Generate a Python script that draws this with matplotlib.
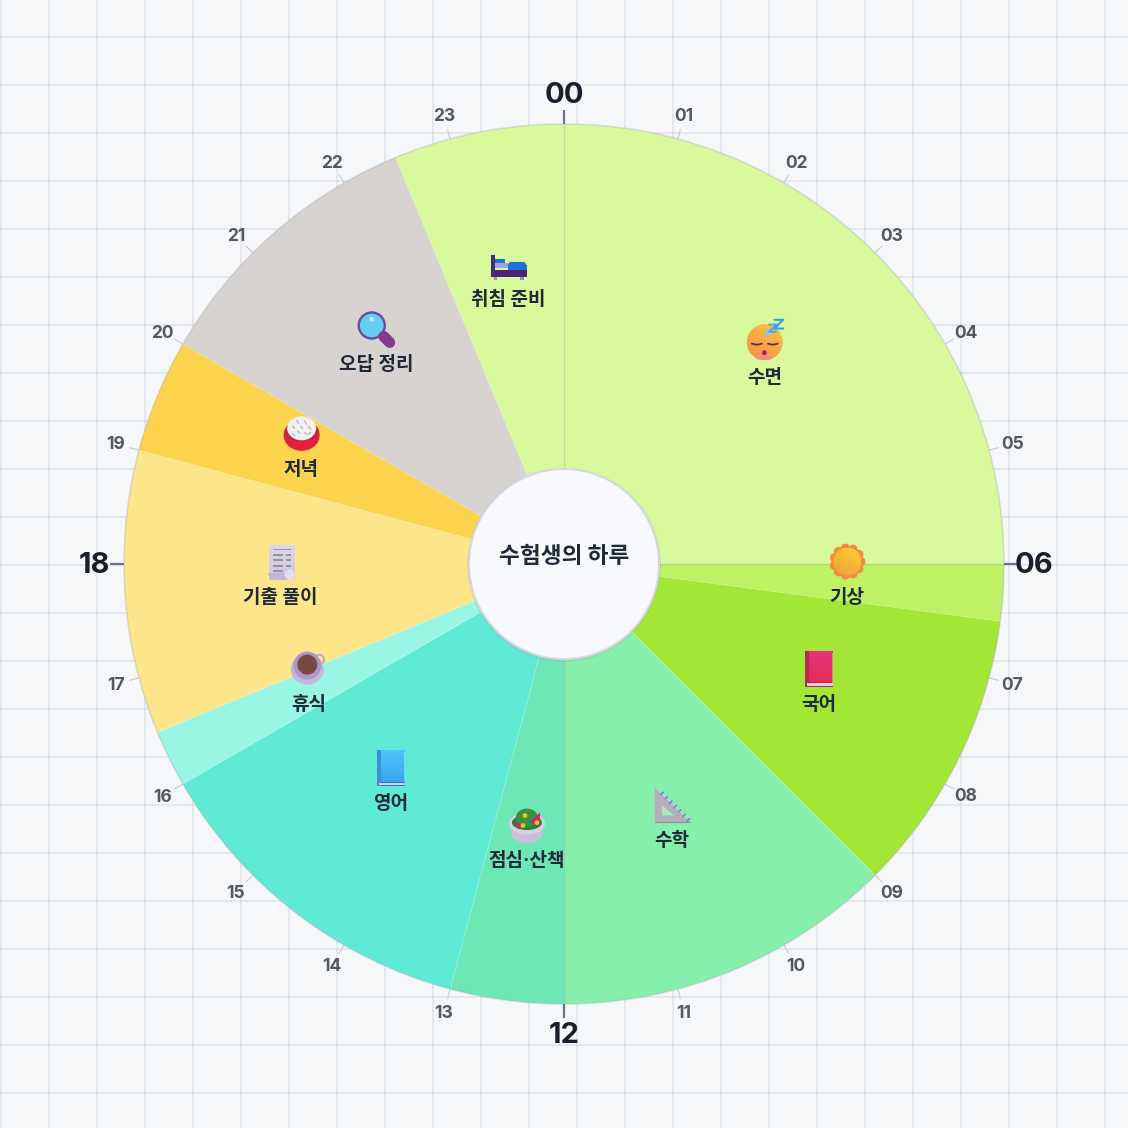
import numpy as np
import matplotlib
matplotlib.use("Agg")
import matplotlib.pyplot as plt
from matplotlib.patches import Circle, Ellipse, Polygon, Rectangle, FancyBboxPatch

plt.rcParams['font.family'] = ['Noto Sans CJK KR', 'DejaVu Sans']

# ---- data -----------------------------------------------------------
activities = ['수면', '기상', '국어', '수학', '점심·산책', '영어', '휴식', '기출 풀이', '저녁', '오답 정리', '취침 준비']
start_hours = [0, 6, 6.5, 9, 12, 13, 16, 16.5, 19, 20, 22.5]
durations = [6, 0.5, 2.5, 3, 1, 3, 0.5, 2.5, 1, 2.5, 1.5]
colors = ['#d9f99d', '#bef264', '#a3e635', '#86efac', '#6ee7b7', '#5eead4',
          '#99f6e4', '#fde68a', '#fcd34d', '#d6d3d1', '#d9f99d']
icons = ['sleep', 'sun', 'redbook', 'ruler', 'salad', 'bluebook', 'coffee', 'doc', 'rice', 'lens', 'bed']
hour_labels = ['%02d' % h for h in range(24)]
major_hours = [0, 6, 12, 18]
cross_hours = [0, 6, 12]
title = '수험생의 하루'

S = 1128
PX = 0.72
CX = CY = 564
R_OUT = 440
R_IN = 95
R_LABEL = 284
h2a = lambda h: np.asarray(h) / 24 * 2 * np.pi

fig = plt.figure(figsize=(S / 100, S / 100), dpi=100, facecolor='#f6f7f9')

# ---- background grid --------------------------------------------------
bg = fig.add_axes([0, 0, 1, 1], zorder=0)
bg.set_xlim(0, S); bg.set_ylim(S, 0); bg.axis('off')
for x in range(1, S, 48):
    bg.plot([x, x], [0, S], color='#8a8fb0', alpha=0.15, lw=2 * PX, solid_capstyle='butt')
for y in range(37, S, 48):
    bg.plot([0, S], [y, y], color='#8a8fb0', alpha=0.15, lw=2 * PX, solid_capstyle='butt')
bg.set_xlim(0, S); bg.set_ylim(S, 0)

# ---- polar clock ------------------------------------------------------
RMAX = 500
ax = fig.add_axes([(CX - RMAX) / S, (S - CY - RMAX) / S, 2 * RMAX / S, 2 * RMAX / S],
                  projection='polar', zorder=1)
ax.patch.set_alpha(0)
ax.set_theta_zero_location('N')
ax.set_theta_direction(-1)
ax.set_ylim(0, RMAX)
ax.axis('off')

ax.bar(h2a(start_hours), R_OUT, width=h2a(durations), bottom=0, align='edge',
       color=colors, edgecolor=(1, 1, 1, 0.1), linewidth=1.2 * PX)

# full-circle rim and the faint slice seams on the quarter hours
theta_rim = np.linspace(0, 2 * np.pi, 361)
ax.plot(theta_rim, np.full_like(theta_rim, R_OUT), color='#8f96a3', alpha=0.28, lw=1.6 * PX)
for h in cross_hours:
    a = h2a(h)
    ax.plot([a, a], [R_IN, R_OUT], color='#8f96a3', alpha=0.3, lw=1.4 * PX, solid_capstyle='butt')

for h, lab in enumerate(hour_labels):
    a = h2a(h)
    if h in major_hours:
        ax.plot([a, a], [R_OUT, R_OUT + 14], color='#64748b', lw=2.2 * PX, solid_capstyle='butt')
        ax.annotate(lab, xy=(a, R_OUT + 30), xytext=(0, -1.5 * PX), textcoords='offset points',
                    ha='center', va='center', fontsize=21,
                    fontweight='bold', family=['Inter', 'DejaVu Sans'], color='#1a1f2b')
    else:
        ax.plot([a, a], [R_OUT, R_OUT + 10], color='#c9ccd4', lw=1.2 * PX, solid_capstyle='butt')
        ax.annotate(lab, xy=(a, R_OUT + 24), xytext=(0, -1 * PX), textcoords='offset points',
                    ha='center', va='center', fontsize=12.5,
                    fontweight='bold', family=['Inter', 'DejaVu Sans'], color='#55585f')

mids = [s + d / 2 for s, d in zip(start_hours, durations)]
for m, lab in zip(mids, activities):
    ax.annotate(lab, xy=(h2a(m), R_LABEL), xytext=(-0.5 * PX, -15 * PX), textcoords='offset points',
                ha='center', va='center', fontsize=13.7, fontweight='bold', color='#1f2937',
                family=['Inter', 'Noto Sans CJK KR', 'DejaVu Sans'])
ax.set_ylim(0, RMAX)

# ---- foreground: hole and icons --------------------------------------
fg = fig.add_axes([0, 0, 1, 1], zorder=2)
fg.patch.set_alpha(0)
fg.axis('off')
fg.set_xlim(0, S); fg.set_ylim(S, 0)

fg.add_patch(Circle((CX, CY + 1), R_IN + 2, fc='#9aa0ad', ec='none', alpha=0.22))
fg.add_patch(Circle((CX, CY), R_IN, fc='#f8f9fc', ec='#d6d8df', lw=2 * PX))
fg.text(CX, CY - 7.5, title, ha='center', va='center', fontsize=16.3, fontweight='bold', color='#1f2937')


def grad(patch, c1, c2, angle=90):
    """Fill a patch with a two-colour linear gradient."""
    fg.add_patch(patch)
    patch.set_edgecolor('none')
    b = patch.get_path().transformed(patch.get_patch_transform()).get_extents()
    n = 32
    yy, xx = np.mgrid[0:1:n * 1j, 0:1:n * 1j]
    t = xx * np.cos(np.radians(angle)) + yy * np.sin(np.radians(angle))
    t = (t - t.min()) / (t.max() - t.min())
    a = np.array(matplotlib.colors.to_rgb(c1)); c = np.array(matplotlib.colors.to_rgb(c2))
    img = a[None, None, :] * (1 - t[..., None]) + c[None, None, :] * t[..., None]
    im = fg.imshow(img, extent=(b.x0, b.x1, b.y1, b.y0), aspect='auto', zorder=patch.get_zorder(),
                   interpolation='bilinear')
    im.set_clip_path(patch)
    patch.set_facecolor('none')


def rect(x, y, w, h, c, **k):
    fg.add_patch(Rectangle((x, y), w, h, fc=c, ec='none', **k))


def poly(pts, c, **k):
    fg.add_patch(Polygon(pts, closed=True, fc=c, ec='none', **k))


def line(pts, c, w):
    p = np.array(pts)
    fg.plot(p[:, 0], p[:, 1], color=c, lw=w * PX, solid_capstyle='round', solid_joinstyle='round')


def icon_sleep(x, y):
    grad(Circle((x, y), 18), '#ffc83f', '#f3894a', 125)
    fg.add_patch(Ellipse((x - 1, y + 15.5), 17, 5, fc='#f2879a', ec='none', alpha=0.75))
    for s in (-8, 8):
        line([(x + s - 5, y + 1.5), (x + s, y + 2.6), (x + s + 5, y + 1.5)], '#5a3040', 1.8)
    fg.add_patch(Ellipse((x - 0.5, y + 10.5), 4.5, 5, fc='#a5108f', ec='none'))
    for zx, zy, s, c in [(3, -9, 2.4, '#8cc8f2'), (8, -14, 3.6, '#4aa8f0'), (14, -18, 4.4, '#2f9bf0')]:
        line([(x + zx - s, y + zy - s), (x + zx + s, y + zy - s),
              (x + zx - s, y + zy + s), (x + zx + s, y + zy + s)], c, 2)


def icon_sun(x, y):
    for k in range(11):
        t = 2 * np.pi * k / 11
        fg.add_patch(Circle((x + 13.5 * np.cos(t), y + 13.5 * np.sin(t)), 4.6, fc='#f58a3a', ec='none'))
    fg.add_patch(Circle((x, y), 14, fc='#f58a3a', ec='none'))
    grad(Circle((x, y), 14), '#ffcf33', '#eb9f3a', 120)


def icon_book(x, y, top, bot, spine, edge):
    grad(Rectangle((x - 14, y - 18), 28, 33), top, bot, 90)
    rect(x - 14, y - 18, 4, 36, spine)
    rect(x - 10, y + 13.5, 24, 4.5, edge)
    rect(x - 12, y + 14.5, 26, 2.4, '#dccdec')
    rect(x + 13, y - 16, 1, 30, '#ffffff', alpha=0.35)


def icon_ruler(x, y):
    poly([(x - 18, y - 18), (x + 17, y + 17), (x - 18, y + 17)], '#b4aebd')
    line([(x - 18, y + 17), (x + 17, y + 17)], '#96909f', 1.2)
    poly([(x - 10.7, y), (x + 1.3, y + 10), (x - 10.7, y + 10)], '#a3ecc0')
    for k in range(7):
        px = x - 12 + k * 4.4
        py = y - 12 + k * 4.4
        line([(px, py + 1.2), (px + 2.6, py - 1.2)], '#9b6fe3', 1.6)


def icon_salad(x, y):
    fg.add_patch(Ellipse((x, y + 8), 32, 21, fc='#c9bfda', ec='none'))
    fg.add_patch(Ellipse((x, y - 1), 36, 22, fc='#d8cfe7', ec='none'))
    fg.add_patch(Ellipse((x, y - 2), 30, 15, fc='#2f7d3c', ec='none'))
    fg.add_patch(Ellipse((x, y - 7), 22, 18, fc='#3b8f43', ec='none'))
    poly([(x - 14, y - 3), (x - 2, y + 1), (x - 7, y + 4)], '#d92068')
    poly([(x + 3, y - 2), (x + 13, y - 12), (x + 13, y + 1)], '#d92068')
    for dx, dy in [(-2, -9), (10, -2), (-4, 1)]:
        fg.add_patch(Circle((x + dx, y + dy), 2.4, fc='#f0c419', ec='none'))


def icon_coffee(x, y):
    fg.add_patch(Circle((x + 10, y - 9), 4.8, fc='none', ec='#b9a5d8', lw=2 * PX))
    fg.add_patch(Ellipse((x - 2, y + 1), 33, 30, fc='#c5b6dc', ec='none'))
    fg.add_patch(Circle((x - 2, y - 3), 14, fc='#ad96cf', ec='none'))
    fg.add_patch(Circle((x - 2, y - 4), 10, fc='#764a43', ec='none'))


def icon_doc(x, y):
    grad(Rectangle((x - 12, y - 17), 26, 34), '#ddd6ea', '#cfc6e2', 90)
    for k, (a, b) in enumerate([(-8, 9), (-8, 1), (-8, 1), (-8, 1), (-8, 1)]):
        yy = y - 13 + k * 5.4
        rect(x + a, yy, b - a + 1, 1.8, '#98949f')
        if k:
            rect(x + 5, yy, 5, 1.8, '#98949f')
    poly([(x - 13, y + 11), (x + 7, y + 11), (x + 7, y + 18), (x - 11, y + 18)], '#c3b4de')
    fg.add_patch(Ellipse((x + 9, y + 13), 10, 11, fc='#e3ddf0', ec='none'))


def icon_rice(x, y):
    fg.add_patch(Ellipse((x, y + 1), 36, 31, fc='#dd2340', ec='none'))
    fg.add_patch(Ellipse((x, y - 3), 34, 20, fc='#c81f45', ec='none'))
    fg.add_patch(Ellipse((x, y - 6), 29, 24, fc='#f1f0f3', ec='none'))
    for dx, dy, ex, ey in [(-5, -14, -3, -11), (3, -13, 5, -10), (-9, -8, -7, -6), (-1, -8, 1, -6),
                           (7, -8, 9, -5), (-4, -3, -2, -1), (3, -2, 5, 0), (9, -2, 7, 0), (-9, -1, -7, 1)]:
        line([(x + dx, y + dy), (x + ex, y + ey)], '#b9b7bd', 1.4)


def icon_lens(x, y):
    line([(x + 7, y + 7), (x + 13, y + 13)], '#85398a', 11)
    fg.add_patch(Circle((x - 5, y - 4), 13, fc='#63cdf2', ec='#6a4f9e', lw=2.4 * PX))
    fg.add_patch(Ellipse((x - 5, y - 10), 4, 5, fc='#c4ecfa', ec='none'))


def icon_bed(x, y):
    rect(x - 18, y - 9, 4, 22, '#3d2f7a')
    rect(x - 14, y + 6, 32, 7, '#4f2378')
    rect(x - 15, y + 13, 3, 3, '#a080e8')
    rect(x + 11, y + 13, 4, 3, '#a080e8')
    rect(x - 14, y - 5, 10, 4, '#2070d8')
    rect(x - 14, y - 1, 13, 5, '#a8a0e0')
    fg.add_patch(FancyBboxPatch((x - 0.5, y - 2.5), 18, 8, boxstyle='round,pad=0,rounding_size=3',
                                fc='#2070d8', ec='none'))
    rect(x - 0.5, y + 1, 18.5, 5, '#2070d8')


ICON = {'sleep': icon_sleep, 'sun': icon_sun,
        'redbook': lambda x, y: icon_book(x, y, '#e8327f', '#e22d52', '#b02a52', '#c0224a'),
        'bluebook': lambda x, y: icon_book(x, y, '#4fc4f8', '#37a6ee', '#3f8fd0', '#2a78c0'),
        'ruler': icon_ruler, 'salad': icon_salad, 'coffee': icon_coffee, 'doc': icon_doc,
        'rice': icon_rice, 'lens': icon_lens, 'bed': icon_bed}

for m, name in zip(mids, icons):
    a = h2a(m)
    ICON[name](CX + R_LABEL * np.sin(a), CY - R_LABEL * np.cos(a) - 21)

fg.set_xlim(0, S); fg.set_ylim(S, 0)
fig.savefig('out.png', dpi=100, facecolor=fig.get_facecolor())
